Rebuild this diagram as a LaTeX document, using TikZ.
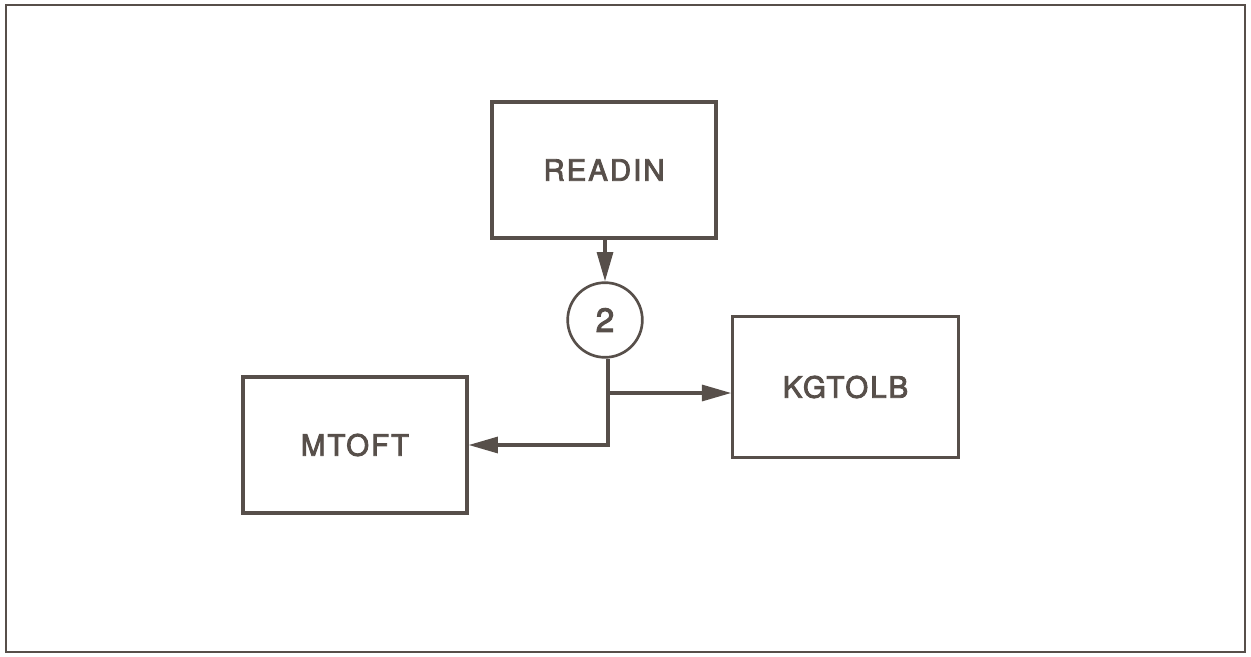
\documentclass[tikz,border=0pt]{standalone}
\usepackage{fontspec}
\setmainfont{TeX Gyre Heros}[LetterSpace=7, FakeBold=3]
\usetikzlibrary{arrows.meta}
\definecolor{ink}{HTML}{574F4A}
\begin{document}
\begin{tikzpicture}[x=0.75pt,y=-0.75pt,
  box/.style={draw=ink, line width=2.4pt, minimum width=168pt, minimum height=102pt, inner sep=0pt, text=ink, font=\fontsize{22}{26}\selectfont},
  circ/.style={circle, draw=ink, line width=2pt, minimum size=56pt, inner sep=0pt, text=ink, font=\fontsize{25}{28}\selectfont},
  arr/.style={-{Triangle[length=22pt,width=12pt]}, line width=2.4pt, draw=ink}]
\useasboundingbox (0,0) rectangle (1251,656);
\draw[draw=ink, line width=2pt] (6,5) rectangle (1245,652);
\node[box] (readin) at (604,170) {READIN};
\node[box] (mtoft) at (355,445) {MTOFT};
\node[box, minimum width=169pt, minimum height=106pt] (kgtolb) at (845.5,387) {KGTOLB};
\node[circ] (two) at (605,320) {2};
\coordinate (j1) at (608,393);
\coordinate (j2) at (608,445);
\draw[arr] (readin.south -| two.north) -- (two.north);
\draw[arr] (two.south -| j1) -- (j2) -- (mtoft.east |- j2);
\draw[arr] (j1) -- (kgtolb.west |- j1);
\end{tikzpicture}
\end{document}
